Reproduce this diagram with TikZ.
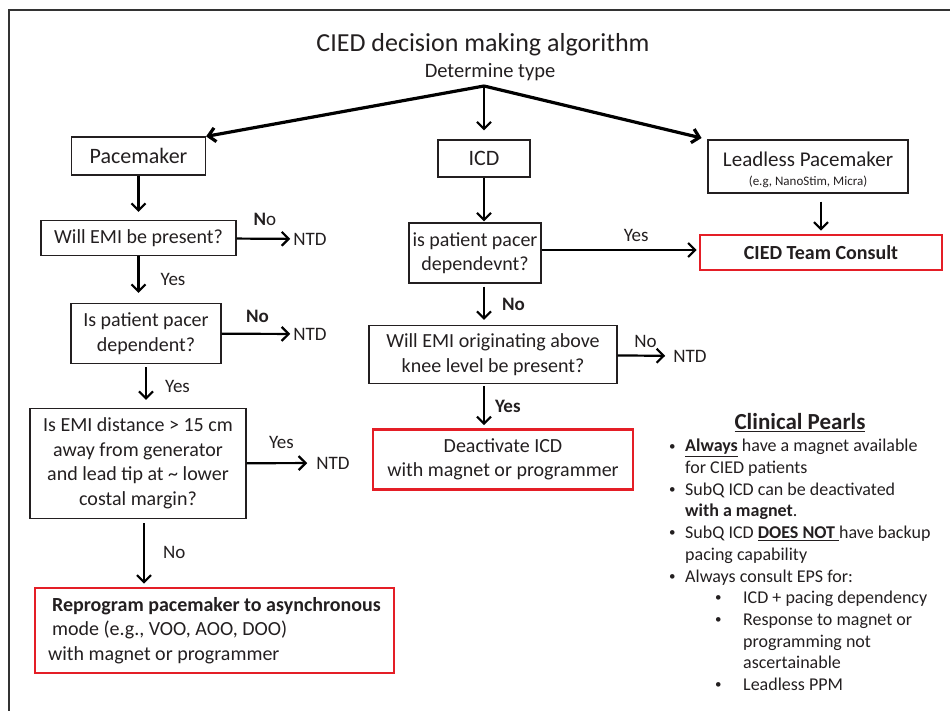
\documentclass[tikz,border=0pt]{standalone}
\usepackage{fontspec}
\setmainfont{Carlito}
\usetikzlibrary{arrows.meta}
\definecolor{inkgray}{RGB}{35,31,32}
\definecolor{alertred}{RGB}{228,30,38}
\newcommand{\dotmark}{\raisebox{1.8pt}{\fontsize{13}{13}\selectfont\textbullet}}
\newcommand{\pearlitem}{\makebox[18pt][l]{\hspace*{2pt}\dotmark}}
\newcommand{\pearlsub}{\hspace*{48pt}\makebox[28pt][l]{\dotmark}}
\begin{document}
\begin{tikzpicture}[
                        x=1pt, y=-1pt,
                        >={Straight Barb[length=7pt,width=14pt]},
                        txt/.style={text=inkgray, inner sep=0pt},
                        block/.style={rectangle, draw=inkgray, line width=1.2pt, text=inkgray, align=center, inner sep=0pt, font=\fontsize{20}{24.5}\selectfont},
                        redblock/.style={block, draw=alertred, line width=2.6pt},
                        lbl/.style={txt, font=\fontsize{19}{22}\selectfont},
                        flow/.style={->, draw=black, line width=2.2pt},
                        fanout/.style={->, draw=black, line width=3.2pt}
                    ]
                    \useasboundingbox (0,0) rectangle (950,711);
                    \draw [line width=2pt, black!80] (9,711) -- (9,10) -- (950,10);

                    % Blocks
                    \node [txt, font=\fontsize{26}{30}\selectfont] (TITLE) at (483,45) {CIED decision making algorithm};
                    \node [txt, font=\fontsize{20.5}{24}\selectfont] (TYPE) at (490,72) {Determine type};
                    \coordinate (FORK) at (484,86);

                    \node [block, minimum width=134pt, minimum height=38pt, font=\fontsize{22}{26}\selectfont] (PM) at (138.5,156) {Pacemaker};
                    \node [block, minimum width=92pt, minimum height=37pt, font=\fontsize{22}{26}\selectfont] (ICD) at (484,158.5) {ICD};
                    \node [block, minimum width=200pt, minimum height=53pt, font=\fontsize{21}{25}\selectfont] (LPM) at (808,166.5) {\rule{0pt}{22pt}Leadless Pacemaker\\[-6pt]{\fontsize{13}{15}\selectfont(e.g, NanoStim, Micra)}};

                    \node [block, minimum width=195pt, minimum height=35pt] (EMI) at (138.5,238) {Will EMI be present?};
                    \node [lbl] (NTDa) at (310,239) {NTD};
                    \node [block, minimum width=150pt, minimum height=60pt] (DEP) at (146,333.5) {Is patient pacer\\dependent?};
                    \node [lbl] (NTDb) at (310,334) {NTD};
                    \node [block, minimum width=216pt, minimum height=110pt] (DIST) at (138,463.5) {Is EMI distance > 15 cm\\away from generator\\and lead tip at \textasciitilde{} lower\\costal margin?};
                    \node [lbl] (NTDc) at (333,463) {NTD};
                    \node [redblock, minimum width=359pt, minimum height=85pt, align=left] (REPROG) at (214.5,630.5) {\hspace*{4pt}\textbf{Reprogram pacemaker to asynchronous}\\\hspace*{4pt}mode (e.g., VOO, AOO, DOO)\\with magnet or programmer};

                    \node [block, minimum width=132pt, minimum height=60pt] (PDEP) at (475,253) {is patient pacer\\dependevnt?};
                    \node [redblock, minimum width=242pt, minimum height=35pt] (TEAM) at (821,252.5) {\textbf{CIED Team Consult}};
                    \node [block, minimum width=248pt, minimum height=58pt] (ABOVE) at (493,354.5) {Will EMI originating above\\knee level be present?};
                    \node [lbl] (NTDd) at (690,356) {NTD};
                    \node [redblock, minimum width=260pt, minimum height=60pt] (DEACT) at (503,459.5) {Deactivate ICD\\with magnet or programmer};

                    % Pearls
                    \node [txt, font=\fontsize{23}{27}\selectfont\bfseries] (PEARLS) at (800,423) {\underline{Clinical Pearls}};
                    \node [txt, anchor=north west, align=left, font=\fontsize{18}{21.7}\selectfont] (LIST) at (667,439) {%
                        \pearlitem\underline{\textbf{Always}} have a magnet available\\
                        \hspace*{18pt}for CIED patients\\
                        \pearlitem SubQ ICD can be deactivated\\
                        \hspace*{18pt}\textbf{with a magnet}.\\
                        \pearlitem SubQ ICD \underline{\textbf{DOES NOT }}have backup\\
                        \hspace*{18pt}pacing capability\\
                        \pearlitem Always consult EPS for:\\
                        \pearlsub ICD + pacing dependency\\
                        \pearlsub Response to magnet or\\
                        \hspace*{76pt}programming not\\
                        \hspace*{76pt}ascertainable\\
                        \pearlsub Leadless PPM};

                    % Connections
                    \draw [fanout] (FORK) -- (PM.north east);
                    \draw [flow, shorten >=9pt] (FORK) -- (ICD.north);
                    \draw [fanout, shorten >=6pt] (FORK) -- (LPM.north west);

                    \draw [flow, shorten >=8pt] (PM) -- (EMI);
                    \draw [flow, shorten >=3pt] (EMI) --node[lbl, above=12pt]{\textbf{N}o} (NTDa);
                    \draw [flow, shorten >=10pt] (EMI.south) --node[lbl, right=21pt]{Yes} (EMI.south |- DEP.north);
                    \draw [flow, shorten >=3pt] (DEP) --node[lbl, above=10pt]{\textbf{No}} (NTDb);
                    \draw [flow, shorten <=3pt, shorten >=8pt] (DEP.south) --node[lbl, right=18pt]{Yes} (DEP.south |- DIST.north);
                    \draw [flow, shorten >=9pt] (DIST) --node[lbl, above=13pt]{Yes} (NTDc);
                    \draw [flow, shorten <=4pt, shorten >=3pt] ([xshift=6pt]DIST.south) --node[lbl, right=18pt]{No} ([xshift=6pt]DIST.south |- REPROG.north);

                    \draw [flow, shorten >=1pt] (ICD.south) -- (ICD.south |- PDEP.north);
                    \draw [flow, shorten >=2pt] ([yshift=3pt]PDEP.east) --node[lbl, above=7pt, xshift=16pt]{Yes} ([yshift=3pt]PDEP.east -| TEAM.west);
                    \draw [flow, shorten <=8pt, shorten >=3pt] (TEAM.north |- LPM.south) -- (TEAM.north);
                    \draw [flow, shorten <=3pt, shorten >=5pt] (ICD.south |- PDEP.south) --node[lbl, right=17pt]{\textbf{No}} (ICD.south |- ABOVE.north);
                    \draw [flow, shorten >=8pt] (ABOVE) --node[lbl, above=7pt]{No} (NTDd);
                    \draw [flow, shorten <=2pt, shorten >=3pt] (ICD.south |- ABOVE.south) --node[lbl, right=10pt]{\textbf{Yes}} (ICD.south |- DEACT.north);
                \end{tikzpicture}
\end{document}
